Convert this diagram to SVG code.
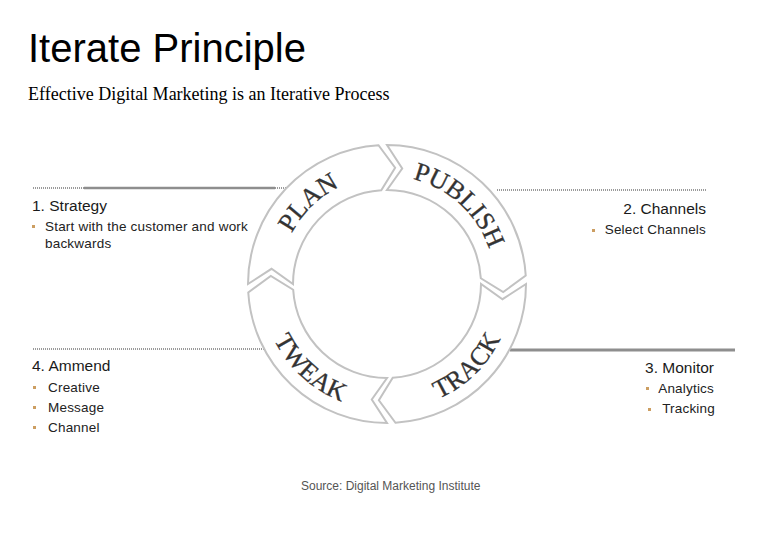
<svg xmlns="http://www.w3.org/2000/svg" width="780" height="540" viewBox="0 0 780 540">
<style>
.seg{fill:#fff;stroke:#c2c2c2;stroke-width:2;stroke-linejoin:miter}
.lbl{font-family:"Liberation Serif","Times New Roman",serif;font-size:26px;fill:#333;stroke:#333;stroke-width:0.3}
.h{font-family:"Liberation Sans",Arial,sans-serif;font-size:15.5px;fill:#1a1a1a}
.b{font-family:"Liberation Sans",Arial,sans-serif;font-size:13.5px;letter-spacing:0.2px;fill:#222}
.bul{fill:#cc9e62}
.dot{stroke:#9a9a9a;stroke-width:2;stroke-dasharray:1 1;fill:none}
.sol{stroke:#8e8e8e;fill:none}
</style>
<defs>
<path id="pPlan" d="M 282.21,310.13 A 108 108 0 0 1 416.77,180.18"/>
<path id="pPublish" d="M 354.52,181 A 108 108 0 0 1 492.44,307.38"/>
<path id="pTrack" d="M 352.90,405.30 A 126 126 0 0 0 509.10,252.88"/>
<path id="pTweak" d="M 263.94,256.94 A 126 126 0 0 0 425.10,404.10"/>
</defs>
<rect width="780" height="540" fill="#fff"/>
<text x="28" y="62" font-family="Liberation Sans, Arial, sans-serif" font-size="40" fill="#000">Iterate Principle</text>
<text x="28" y="100" font-family="Liberation Serif, Times New Roman, serif" font-size="18" fill="#000">Effective Digital Marketing is an Iterative Process</text>
<g id="connectors">
<line class="dot" x1="33" y1="188" x2="84" y2="188"/>
<line class="sol" x1="84" y1="188" x2="275" y2="188" stroke-width="2.5"/>
<line class="dot" x1="275" y1="188" x2="286" y2="188"/>
<line class="dot" x1="497" y1="190" x2="707" y2="190"/>
<line class="dot" x1="33" y1="349" x2="264" y2="349"/>
<line class="sol" x1="510" y1="350" x2="735" y2="350" stroke-width="3"/>
</g>
<g id="plan">
<path class="seg" d="M 248,284 A 139 139 0 0 1 378.51,145.26 L 395.13,167.78 L 381.26,190.18 A 94 94 0 0 0 293,284 L 271.50,268.79 Z"/>
<text class="lbl"><textPath href="#pPlan" startOffset="50%" text-anchor="middle">PLAN</textPath></text>
</g>
<g id="publish">
<path class="seg" d="M 387,145 A 139 139 0 0 1 525.74,275.51 L 503.22,292.13 L 480.82,278.26 A 94 94 0 0 0 387,190 L 402.21,168.50 Z"/>
<text class="lbl"><textPath href="#pPublish" startOffset="50%" text-anchor="middle">PUBLISH</textPath></text>
</g>
<g id="track">
<path class="seg" d="M 526,284 A 139 139 0 0 1 395.49,422.74 L 378.87,400.22 L 392.74,377.82 A 94 94 0 0 0 481,284 L 502.50,299.21 Z"/>
<text class="lbl"><textPath href="#pTrack" startOffset="50%" text-anchor="middle">TRACK</textPath></text>
</g>
<g id="tweak">
<path class="seg" d="M 387,423 A 139 139 0 0 1 248.26,292.49 L 270.78,275.87 L 293.18,289.74 A 94 94 0 0 0 387,378 L 371.79,399.50 Z"/>
<text class="lbl"><textPath href="#pTweak" startOffset="50%" text-anchor="middle">TWEAK</textPath></text>
</g>
<g id="strategy">
<text class="h" x="32" y="211">1. Strategy</text>
<rect class="bul" x="32" y="225" width="3" height="3"/>
<text class="b" x="45" y="231">Start with the customer and work</text>
<text class="b" x="45" y="248">backwards</text>
</g>
<g id="channels">
<text class="h" x="706" y="214" text-anchor="end">2. Channels</text>
<rect class="bul" x="592" y="229" width="3" height="3"/>
<text class="b" x="706" y="234" text-anchor="end">Select Channels</text>
</g>
<g id="monitor">
<text class="h" x="714" y="373" text-anchor="end">3. Monitor</text>
<rect class="bul" x="646" y="387" width="3" height="3"/>
<text class="b" x="714" y="393" text-anchor="end">Analytics</text>
<rect class="bul" x="648" y="408" width="3" height="3"/>
<text class="b" x="715" y="413" text-anchor="end">Tracking</text>
</g>
<g id="ammend">
<text class="h" x="32" y="371">4. Ammend</text>
<rect class="bul" x="33" y="386" width="3" height="3"/>
<text class="b" x="48" y="392">Creative</text>
<rect class="bul" x="33" y="406" width="3" height="3"/>
<text class="b" x="48" y="412">Message</text>
<rect class="bul" x="33" y="426" width="3" height="3"/>
<text class="b" x="48" y="432">Channel</text>
</g>
<text x="301" y="490" font-family="Liberation Sans, Arial, sans-serif" font-size="12" fill="#555">Source: Digital Marketing Institute</text>
</svg>
